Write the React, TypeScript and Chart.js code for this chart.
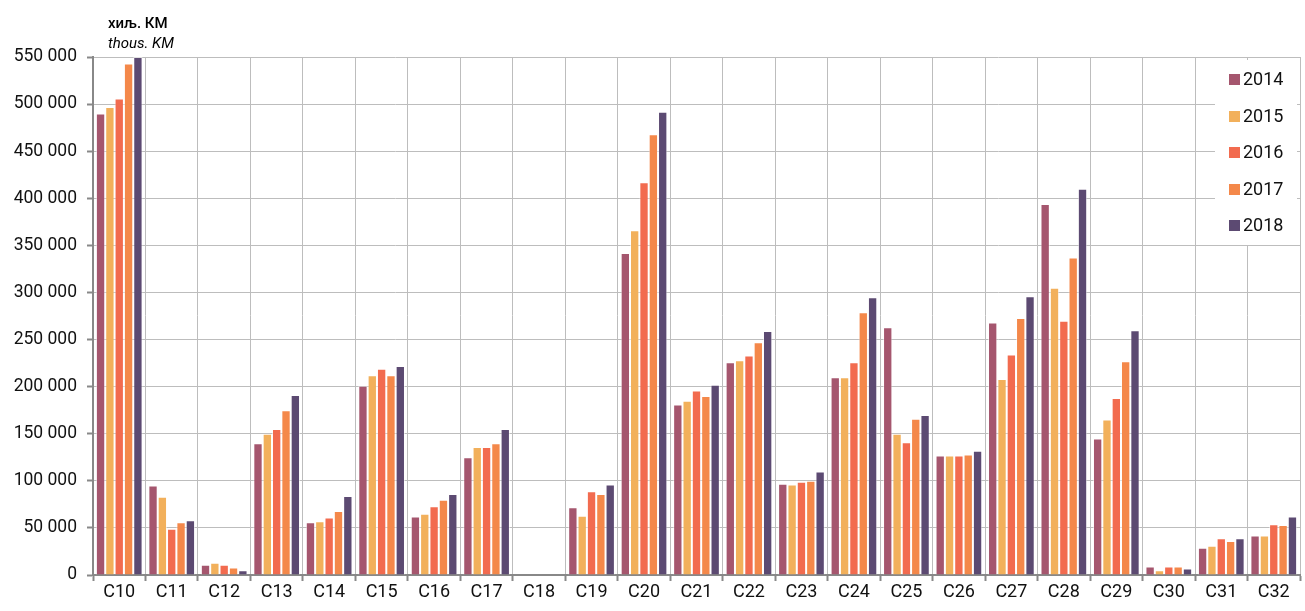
import React, { useEffect, useRef } from "react";
import { Chart, registerables } from "chart.js";

Chart.register(...registerables);

const categories = ["C10","C11","C12","C13","C14","C15","C16","C17","C18","C19","C20","C21","C22","C23","C24","C25","C26","C27","C28","C29","C30","C31","C32"];
const years = ["2014", "2015", "2016", "2017", "2018"];
const v2014 = [490000, 95000, 11000, 140000, 56000, 201000, 62000, 125000, 0, 72000, 342000, 181000, 226000, 97000, 210000, 263000, 127000, 268000, 394000, 145000, 9000, 29000, 42000];
const v2015 = [497000, 83000, 13000, 150000, 57000, 212000, 65000, 136000, 0, 63000, 366000, 185000, 228000, 96000, 210000, 150000, 127000, 208000, 305000, 165000, 5000, 31000, 42000];
const v2016 = [506000, 49000, 11000, 155000, 61000, 219000, 73000, 136000, 0, 89000, 417000, 196000, 233000, 99000, 226000, 141000, 127000, 234000, 270000, 188000, 9000, 39000, 54000];
const v2017 = [543000, 56000, 8000, 175000, 68000, 212000, 80000, 140000, 0, 86000, 468000, 190000, 247000, 100000, 279000, 166000, 128000, 273000, 337000, 227000, 9000, 36000, 53000];
const v2018 = [550000, 58000, 5000, 191000, 84000, 222000, 86000, 155000, 0, 96000, 492000, 202000, 259000, 110000, 295000, 170000, 132000, 296000, 410000, 260000, 7000, 39000, 62000];
const seriesValues = [v2014, v2015, v2016, v2017, v2018];
const colors = ["#A5566E", "#F2B05B", "#F26B4F", "#F4884A", "#5C4A72"];
const titleLine1 = "хиљ. КМ";
const titleLine2 = "thous. KM";

const FONT = "'Roboto', sans-serif";

export default function App() {
  const ref = useRef<HTMLCanvasElement | null>(null);
  useEffect(() => {
    document.body.style.margin = "0";
    const canvas = ref.current;
    if (!canvas) return;

    const overlay = {
      id: "overlay",
      afterDraw(chart: any) {
        const ctx = chart.ctx;
        ctx.save();
        ctx.fillStyle = "#000";
        ctx.textBaseline = "alphabetic";
        ctx.textAlign = "left";
        ctx.font = `500 15px ${FONT}`;
        ctx.fillText(titleLine1, 108, 28);
        ctx.font = `italic 15px ${FONT}`;
        ctx.fillText(titleLine2, 108, 48);
        ctx.fillStyle = "#fff";
        ctx.fillRect(1215, 60, 82, 185);
        const ys = [80, 117, 153, 190, 226];
        ctx.font = `18px ${FONT}`;
        ctx.textBaseline = "middle";
        years.forEach((y, i) => {
          ctx.fillStyle = colors[i];
          ctx.fillRect(1229, ys[i] - 6, 11, 11);
          ctx.fillStyle = "#111";
          ctx.fillText(y, 1243, ys[i]);
        });
        ctx.restore();
      },
    };

    const chart = new Chart(canvas, {
      type: "bar",
      data: {
        labels: categories,
        datasets: years.map((y, i) => ({
          label: y,
          data: seriesValues[i],
          backgroundColor: colors[i],
          borderColor: "rgba(255,255,255,0.55)",
          borderWidth: 1,
          categoryPercentage: 0.89,
          barPercentage: 1.0,
        })),
      },
      options: {
        animation: false,
        responsive: false,
        layout: { padding: { top: 57, right: 5, left: 0, bottom: 0 } },
        plugins: {
          legend: { display: false },
          tooltip: { enabled: false },
          title: { display: false },
        },
        scales: {
          x: {
            grid: {
              offset: true,
              color: "#bdbdbd",
              lineWidth: 1,
              tickLength: 6,
              tickColor: "#888",
              tickWidth: 2,
            },
            border: { color: "#888", width: 2 },
            ticks: {
              color: "#111",
              font: { family: FONT, size: 18 },
              padding: 1,
              maxRotation: 0,
              autoSkip: false,
            },
            afterFit: (s: any) => { s.height = 36; },
          },
          y: {
            min: 0,
            max: 550000,
            grid: {
              color: "#bdbdbd",
              lineWidth: 1,
              tickLength: 6,
              tickColor: "#888",
              tickWidth: 2,
            },
            border: { color: "#888", width: 2 },
            ticks: {
              stepSize: 50000,
              color: "#111",
              font: { family: FONT, size: 17.5 },
              padding: 10,
              callback: (v: any) => Number(v) === 0 ? "0" : Number(v).toLocaleString("en-US").replace(/,/g, " "),
            },
            afterFit: (s: any) => { s.width = 93; },
          },
        },
      },
      plugins: [overlay],
    });
    return () => chart.destroy();
  }, []);
  return (
    <div style={{ position: "absolute", left: 0, top: 0, width: 1305, height: 611, background: "#fff" }}>
      <canvas ref={ref} width={1305} height={611} style={{ display: "block" }} />
    </div>
  );
}
